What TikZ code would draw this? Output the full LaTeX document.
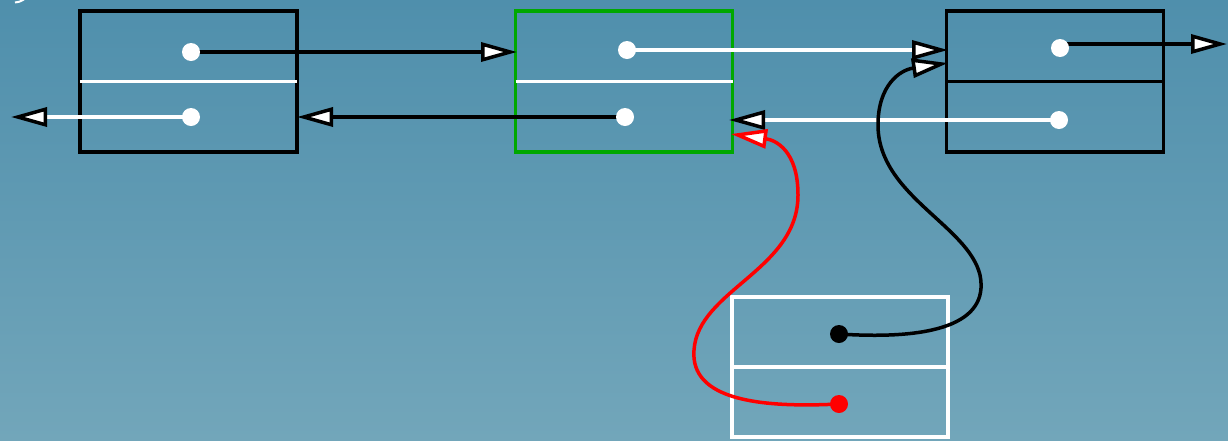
\documentclass[tikz,border=0pt]{standalone}
\usetikzlibrary{arrows.meta}
\definecolor{bgtop}{HTML}{4F8FAC}
\definecolor{bgbot}{HTML}{72A6BA}
\definecolor{gbox}{HTML}{00A800}
\pgfdeclarelayer{fg}
\pgfsetlayers{main,fg}
\begin{document}
\begin{tikzpicture}[x=1pt,y=-1pt,line width=3.5pt,
  box/.style={draw, line width=3.5pt, minimum width=217pt, minimum height=141pt, inner sep=0pt},
  dot/.style={circle, fill=white, minimum size=18pt, inner sep=0pt},
  conn/.style={line width=3.5pt},
  tipb/.style={conn, -{Triangle[fill=white,color=black,line width=3.5pt,length=36pt,width=19pt]}},
  tipr/.style={conn, -{Triangle[fill=white,color=red,line width=3.5pt,length=36pt,width=19pt]}},
  divider/.style={line width=3.5pt, shorten <=1.75pt, shorten >=1.75pt}]
\useasboundingbox (0,0) rectangle (1228,440);
\shade[top color=bgtop, bottom color=bgbot] (0,0) rectangle (1228,440);
\draw[white, line width=2pt] (15,2.5) .. controls (19,2) .. (24,-0.5);

% boxes
\node[box, draw=black] (b1) at (188.5,81.5) {};
\node[box, draw=gbox] (b2) at (624,81.5) {};
\node[box, draw=black] (b3) at (1055,81.5) {};
\node[box, draw=white, minimum width=216pt, minimum height=140pt] (b4) at (840,367) {};
\draw[white, divider] (b1.west) -- (b1.east);
\draw[white, divider] (b2.west) -- (b2.east);
\draw[black, divider] (b3.west) -- (b3.east);
\draw[white, divider] (b4.west) -- (b4.east);

% dots
\begin{pgfonlayer}{fg}
\node[dot] (d1) at (191,52) {};
\node[dot] (d2) at (191,117) {};
\node[dot] (d3) at (627,50) {};
\node[dot] (d4) at (625,117) {};
\node[dot] (d5) at (1060,48) {};
\node[dot] (d6) at (1059,120) {};
\node[dot, fill=black] (d7) at (839,334) {};
\node[dot, fill=red] (d8) at (839,404) {};
\end{pgfonlayer}

% free ends
\coordinate (e1) at (517,52);
\coordinate (e2) at (11,117);
\coordinate (e3) at (948,50);
\coordinate (e4) at (297,117);
\coordinate (e5) at (1227,44);
\coordinate (e6) at (729,120);
\coordinate (e7) at (948,63);
\coordinate (e8) at (731,134);

% connectors
\draw[black, tipb] (d1.center) -- (e1);
\draw[white, tipb] (d2.center) -- (e2);
\draw[white, tipb] (d3.center) -- (e3);
\draw[black, tipb] (d4.center) -- (e4);
\draw[black, tipb] ([yshift=4pt]d5.center) -- (e5);
\draw[white, tipb] (d6.center) -- (e6);
\draw[black, tipb] (d7.center) .. controls (930,340) and (990,325) .. (980,275)
  .. controls (968,225) and (878,195) .. (878,125)
  .. controls (878,85) and (900,70) .. (e7);
\draw[red, tipr] (d8.center) .. controls (760,408) and (690,400) .. (694,350)
  .. controls (698,290) and (798,270) .. (798,195)
  .. controls (798,150) and (775,140) .. (e8);
\end{tikzpicture}
\end{document}
